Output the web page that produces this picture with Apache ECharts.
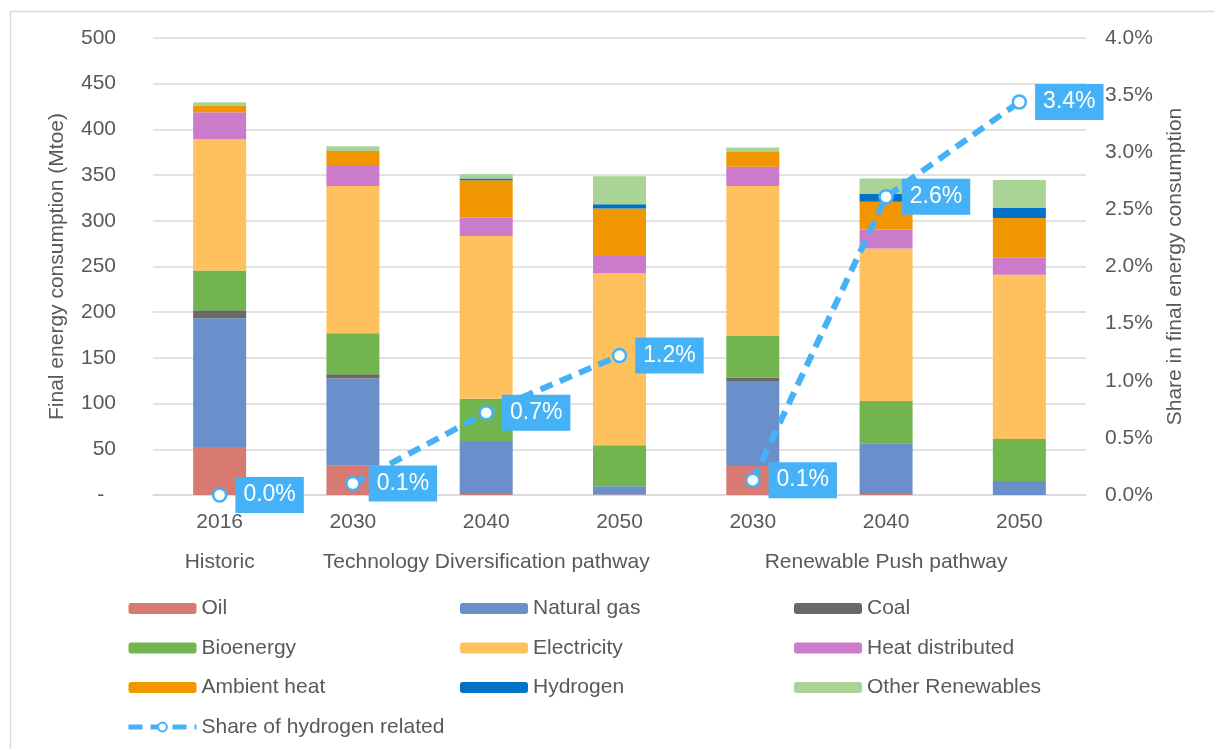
<!DOCTYPE html>
<html>
<head>
<meta charset="utf-8">
<script src="https://cdn.jsdelivr.net/npm/echarts@6/dist/echarts.min.js"></script>
<style>
html, body { margin: 0; padding: 0; background: #fff; }
#chart-panel { width: 1214px; height: 749px; }
</style>
</head>
<body>
<div id="chart-panel"></div>
<script>
var categories = ['2016', '2030', '2040', '2050', '2030', '2040', '2050'];
var groupLabels = ['Historic', '', 'Technology Diversification pathway', '', '', 'Renewable Push pathway', ''];
// which group each category belongs to (the share line breaks between groups)
var groupOf = [0, 1, 1, 1, 2, 2, 2];

var oil = [52.5, 32.5, 1, 0.5, 31.7, 1, 0];
var naturalGas = [141, 95, 58, 9, 93, 55.5, 15.3];
var coal = [8.7, 4.7, 0, 0, 3.6, 0, 0];
var bioenergy = [43.4, 44.9, 46.4, 44.9, 45.6, 46.3, 46];
var electricity = [143.6, 161, 178, 188.2, 164.1, 167, 179.8];
var heatDistributed = [29.5, 21.9, 20.1, 18.9, 21.1, 20.8, 19];
var ambientHeat = [6.9, 16.4, 40.8, 51.9, 16.1, 30.2, 43];
var hydrogen = [0, 0, 1.9, 4.7, 0, 8.4, 10.9];
var otherRenewables = [4, 5.1, 4.7, 30.6, 5.1, 17.2, 30.6];
var hydrogenShare = [0.0, 0.1, 0.72, 1.22, 0.13, 2.61, 3.44];

var leftTicks = { min: 0, max: 500, interval: 50 };
var rightTicks = { min: 0, max: 4, interval: 0.5 };

var font = "'Liberation Sans', Arial, sans-serif";
var textColor = '#595959';
var lineColor = '#d9d9d9';
var shareColor = '#45B1F7';

var myChart = echarts.init(document.getElementById('chart-panel'));

function barSeries(name, data, color) {
    return {
        name: name,
        type: 'bar',
        stack: 'energy',
        barWidth: 53,
        itemStyle: { color: color },
        emphasis: { disabled: true },
        data: data
    };
}

function shareSeries(group) {
    return {
        name: 'Share of hydrogen related',
        type: 'line',
        yAxisIndex: 1,
        z: 5,
        symbol: 'circle',
        symbolSize: 13,
        showAllSymbol: true,
        itemStyle: { color: '#fff', borderColor: shareColor, borderWidth: 2.5 },
        lineStyle: { color: shareColor, width: 6, type: [13, 8] },
        emphasis: { disabled: true },
        label: {
            show: true,
            position: 'right',
            distance: 8,
            color: '#fff',
            fontSize: 23,
            lineHeight: 25,
            backgroundColor: shareColor,
            padding: [6, 8, 5, 8],
            formatter: function (p) { return p.value.toFixed(1) + '%'; }
        },
        data: hydrogenShare.map(function (v, i) { return groupOf[i] === group ? v : '-'; })
    };
}

var legendText = { color: textColor, fontSize: 21, fontFamily: font, lineHeight: 21 };

function legendColumn(left, names) {
    return {
        orient: 'vertical',
        left: left,
        top: 598,
        padding: 0,
        itemWidth: 68,
        itemHeight: 11,
        itemGap: 18.5,
        selectedMode: false,
        textStyle: legendText,
        lineStyle: { width: 5, type: [14, 8] },
        data: names
    };
}

var option = {
    backgroundColor: '#fff',
    animation: false,
    textStyle: { fontFamily: font },
    grid: { left: 153, right: 128, top: 38, bottom: 254 },
    legend: [
        legendColumn(126, ['Oil', 'Bioenergy', 'Ambient heat', 'Share of hydrogen related']),
        legendColumn(460, ['Natural gas', 'Electricity', 'Hydrogen']),
        legendColumn(794, ['Coal', 'Heat distributed', 'Other Renewables'])
    ],
    xAxis: [
        {
            type: 'category',
            data: categories,
            axisLine: { lineStyle: { color: lineColor, width: 1.5 } },
            axisTick: {
                length: 78,
                lineStyle: { color: lineColor, width: 1.5 },
                interval: function (idx) { return idx === 0 || idx === 1 || idx === 4; }
            },
            axisLabel: { color: textColor, fontSize: 21, margin: 17, interval: 0 }
        },
        {
            type: 'category',
            position: 'bottom',
            offset: 0,
            data: groupLabels,
            axisLine: { show: false },
            axisTick: { show: false },
            splitLine: { show: false },
            axisLabel: { color: textColor, fontSize: 21, margin: 57, interval: 0 }
        }
    ],
    yAxis: [
        {
            type: 'value',
            min: leftTicks.min,
            max: leftTicks.max,
            interval: leftTicks.interval,
            name: 'Final energy consumption (Mtoe)',
            nameLocation: 'middle',
            nameGap: 85,
            nameTextStyle: { color: textColor, fontSize: 21 },
            axisLine: { show: false },
            axisTick: { show: false },
            splitLine: { lineStyle: { color: lineColor, width: 1.5 } },
            axisLabel: {
                color: textColor, fontSize: 21, margin: 37,
                formatter: function (v) { return v === 0 ? '-  ' : String(v); }
            }
        },
        {
            type: 'value',
            min: rightTicks.min,
            max: rightTicks.max,
            interval: rightTicks.interval,
            name: 'Share in final energy consumption',
            nameLocation: 'middle',
            nameRotate: 90,
            nameGap: 79,
            nameTextStyle: { color: textColor, fontSize: 21 },
            axisLine: { show: false },
            axisTick: { show: false },
            splitLine: { show: false },
            axisLabel: {
                color: textColor, fontSize: 21, margin: 19,
                formatter: function (v) { return v.toFixed(1) + '%'; }
            }
        }
    ],
    graphic: [
        {
            type: 'rect',
            left: 8, top: 9,
            shape: { width: 1400, height: 900 },
            style: { fill: 'none', stroke: lineColor, lineWidth: 1.5 },
            silent: true,
            z: -10
        }
    ],
    series: [
        barSeries('Oil', oil, '#D77B72'),
        barSeries('Natural gas', naturalGas, '#6B8FCA'),
        barSeries('Coal', coal, '#696A65'),
        barSeries('Bioenergy', bioenergy, '#72B54E'),
        barSeries('Electricity', electricity, '#FFC15E'),
        barSeries('Heat distributed', heatDistributed, '#CC7BCA'),
        barSeries('Ambient heat', ambientHeat, '#EF9600'),
        barSeries('Hydrogen', hydrogen, '#0072C8'),
        barSeries('Other Renewables', otherRenewables, '#A9D496'),
        shareSeries(0),
        shareSeries(1),
        shareSeries(2)
    ]
};

myChart.setOption(option);
</script>
</body>
</html>
